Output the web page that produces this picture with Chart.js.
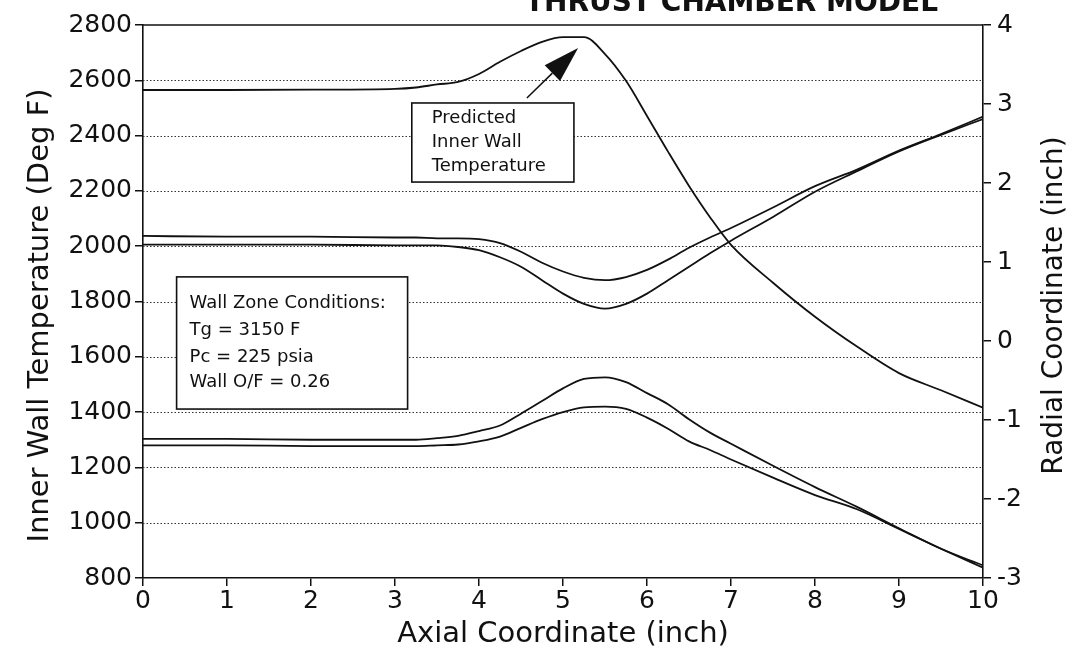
<!DOCTYPE html>
<html>
<head>
<meta charset="utf-8">
<title>Inner Wall Temperature vs Axial Coordinate</title>
<script src="https://cdn.jsdelivr.net/npm/chart.js@4.4.1/dist/chart.umd.min.js"></script>
<style>
  html, body { margin: 0; padding: 0; background: #fff; }
  #wrap { width: 1076px; height: 656px; position: relative; }
</style>
</head>
<body>
<div id="wrap"><canvas id="chart" width="1076" height="656"></canvas></div>
<script>
// Axial stations (inch)
const axial = [0, 1, 2, 3, 3.25, 3.5, 3.75, 4, 4.25, 4.5, 4.75, 5, 5.25, 5.5, 5.75, 6, 6.25, 6.5, 6.75, 7, 7.5, 8, 8.5, 9, 9.5, 10];

// Predicted inner wall temperature (Deg F) - left axis
const wallTemp = [2565, 2565, 2566, 2569, 2574, 2585, 2594, 2623, 2667, 2706, 2739, 2756, 2756, 2695, 2598, 2471, 2342, 2218, 2105, 2005, 1868, 1745, 1637, 1541, 1479, 1416];

// Chamber contour (radial coordinate, inch) - right axis
const outerUpper = [1.33, 1.32, 1.32, 1.31, 1.31, 1.30, 1.30, 1.29, 1.24, 1.13, 0.99, 0.88, 0.80, 0.77, 0.81, 0.90, 1.03, 1.18, 1.31, 1.43, 1.69, 1.96, 2.17, 2.41, 2.62, 2.84];
const innerUpper = [1.22, 1.22, 1.22, 1.21, 1.21, 1.21, 1.19, 1.15, 1.06, 0.94, 0.77, 0.60, 0.47, 0.41, 0.47, 0.60, 0.77, 0.94, 1.11, 1.27, 1.57, 1.89, 2.15, 2.40, 2.61, 2.81];
const innerLower = [-1.24, -1.24, -1.25, -1.25, -1.25, -1.23, -1.20, -1.14, -1.07, -0.92, -0.76, -0.60, -0.48, -0.46, -0.52, -0.66, -0.80, -0.99, -1.16, -1.30, -1.58, -1.85, -2.10, -2.37, -2.63, -2.84];
const outerLower = [-1.32, -1.32, -1.33, -1.33, -1.33, -1.32, -1.31, -1.27, -1.21, -1.10, -0.99, -0.90, -0.84, -0.83, -0.86, -0.97, -1.11, -1.27, -1.38, -1.50, -1.73, -1.95, -2.13, -2.38, -2.63, -2.87];

// Text
const titleText = 'THRUST CHAMBER MODEL';
const xTitle = 'Axial Coordinate (inch)';
const yTitle = 'Inner Wall Temperature (Deg F)';
const y2Title = 'Radial Coordinate (inch)';
const tempNote = ['Predicted', 'Inner Wall', 'Temperature'];
const zoneNote = ['Wall Zone Conditions:', 'Tg = 3150 F', 'Pc = 225 psia', 'Wall O/F = 0.26'];

const ink = '#111';
const family = "'DejaVu Sans', Verdana, sans-serif";

function series(values, axisId) {
  return {
    data: axial.map((x, i) => ({ x: x, y: values[i] })),
    yAxisID: axisId,
    borderColor: ink,
    borderWidth: 1.8,
    pointRadius: 0,
    fill: false,
    cubicInterpolationMode: 'monotone'
  };
}

// dotted horizontal grid at the temperature ticks
const dottedGrid = {
  id: 'dottedGrid',
  beforeDatasetsDraw(chart) {
    const { ctx, chartArea: a } = chart;
    const ys = chart.scales.y;
    ctx.save();
    ctx.strokeStyle = '#333';
    ctx.lineWidth = 1;
    ctx.setLineDash([1.5, 2]);
    ys.ticks.forEach(t => {
      if (t.value <= ys.min || t.value >= ys.max) return;
      const py = Math.round(ys.getPixelForValue(t.value)) + 0.5;
      ctx.beginPath();
      ctx.moveTo(a.left, py);
      ctx.lineTo(a.right, py);
      ctx.stroke();
    });
    ctx.restore();
  }
};

function noteBox(ctx, left, top, right, bottom, lines, textX, baselines) {
  ctx.fillStyle = '#fff';
  ctx.fillRect(left, top, right - left, bottom - top);
  ctx.strokeStyle = ink;
  ctx.lineWidth = 1.6;
  ctx.strokeRect(left, top, right - left, bottom - top);
  ctx.fillStyle = ink;
  ctx.font = '18px ' + family;
  ctx.textAlign = 'left';
  ctx.textBaseline = 'alphabetic';
  lines.forEach((s, i) => ctx.fillText(s, left + textX, top + baselines[i]));
}

function verticalText(ctx, text, x, y, size) {
  ctx.save();
  ctx.fillStyle = ink;
  ctx.font = size + 'px ' + family;
  ctx.textAlign = 'center';
  ctx.textBaseline = 'middle';
  ctx.translate(x, y);
  ctx.rotate(-Math.PI / 2);
  ctx.fillText(text, 0, 0);
  ctx.restore();
}

// boxes, arrow, frame and titles
const notes = {
  id: 'notes',
  afterDatasetsDraw(chart) {
    const { ctx, chartArea: a } = chart;
    const xs = chart.scales.x, ys = chart.scales.y;
    ctx.save();

    // frame top line
    ctx.strokeStyle = ink;
    ctx.lineWidth = 1.6;
    ctx.beginPath();
    ctx.moveTo(a.left, a.top);
    ctx.lineTo(a.right, a.top);
    ctx.stroke();

    // predicted temperature note + arrow
    const b1l = xs.getPixelForValue(3.2), b1r = xs.getPixelForValue(5.13);
    const b1t = ys.getPixelForValue(2518), b1b = ys.getPixelForValue(2232);
    noteBox(ctx, b1l, b1t, b1r, b1b, tempNote, 20, [20, 44, 68]);

    const tx = xs.getPixelForValue(4.57), ty = ys.getPixelForValue(2536);
    const hx = xs.getPixelForValue(5.18), hy = ys.getPixelForValue(2717);
    const ang = Math.atan2(hy - ty, hx - tx);
    const len = 36, half = 11;
    const bx = hx - len * Math.cos(ang), by = hy - len * Math.sin(ang);
    ctx.beginPath();
    ctx.moveTo(tx, ty);
    ctx.lineTo(bx, by);
    ctx.lineWidth = 1.5;
    ctx.stroke();
    ctx.beginPath();
    ctx.moveTo(hx, hy);
    ctx.lineTo(bx + half * Math.sin(ang), by - half * Math.cos(ang));
    ctx.lineTo(bx - half * Math.sin(ang), by + half * Math.cos(ang));
    ctx.closePath();
    ctx.fillStyle = ink;
    ctx.fill();

    // wall zone conditions
    const b2l = xs.getPixelForValue(0.4), b2r = xs.getPixelForValue(3.15);
    const b2t = ys.getPixelForValue(1889), b2b = ys.getPixelForValue(1411);
    noteBox(ctx, b2l, b2t, b2r, b2b, zoneNote, 13, [31, 58, 85, 110]);

    ctx.restore();
  },
  afterDraw(chart) {
    const { ctx, chartArea: a } = chart;
    const mid = (a.top + a.bottom) / 2;
    // axis titles, both reading upward
    verticalText(ctx, yTitle, 40, mid + 14, 29);
    verticalText(ctx, y2Title, 1055, mid + 4, 28);

    // page heading, mostly cut off at the top edge
    ctx.save();
    ctx.fillStyle = ink;
    ctx.font = 'bold 28px ' + family;
    ctx.textAlign = 'right';
    ctx.textBaseline = 'alphabetic';
    ctx.fillText(titleText, 938, 11);
    ctx.restore();
  }
};

const tickFont = { family: family, size: 25 };
const titleFont = { family: family, size: 29 };

new Chart(document.getElementById('chart').getContext('2d'), {
  type: 'line',
  data: {
    datasets: [
      series(wallTemp, 'y'),
      series(outerUpper, 'y2'),
      series(innerUpper, 'y2'),
      series(innerLower, 'y2'),
      series(outerLower, 'y2')
    ]
  },
  options: {
    responsive: false,
    animation: false,
    layout: { padding: { top: 25, left: 0, right: 0, bottom: 0 } },
    plugins: { legend: { display: false }, tooltip: { enabled: false } },
    scales: {
      x: {
        type: 'linear', min: 0, max: 10,
        ticks: { stepSize: 1, font: tickFont, color: ink, padding: 0, callback: v => String(v) },
        grid: { drawOnChartArea: false, drawTicks: true, tickLength: 8, color: ink, lineWidth: 1.5 },
        border: { display: true, color: ink, width: 1.6 },
        title: { display: true, text: xTitle, font: titleFont, color: ink, padding: { top: 0, bottom: 4 } },
        afterFit: s => { s.height = 78; }
      },
      y: {
        position: 'left', min: 800, max: 2800,
        ticks: { stepSize: 200, font: tickFont, color: ink, padding: 3, callback: v => String(v) },
        grid: { drawOnChartArea: false, drawTicks: true, tickLength: 8, color: ink, lineWidth: 1.5 },
        border: { display: true, color: ink, width: 1.6 },
        title: { display: false },
        afterFit: s => { s.width = 143; }
      },
      y2: {
        position: 'right', min: -3, max: 4,
        ticks: { stepSize: 1, font: tickFont, color: ink, padding: 6, callback: v => String(v) },
        grid: { drawOnChartArea: false, drawTicks: true, tickLength: 8, color: ink, lineWidth: 1.5 },
        border: { display: true, color: ink, width: 1.6 },
        title: { display: false },
        afterFit: s => { s.width = 93; }
      }
    }
  },
  plugins: [dottedGrid, notes]
});
</script>
</body>
</html>
